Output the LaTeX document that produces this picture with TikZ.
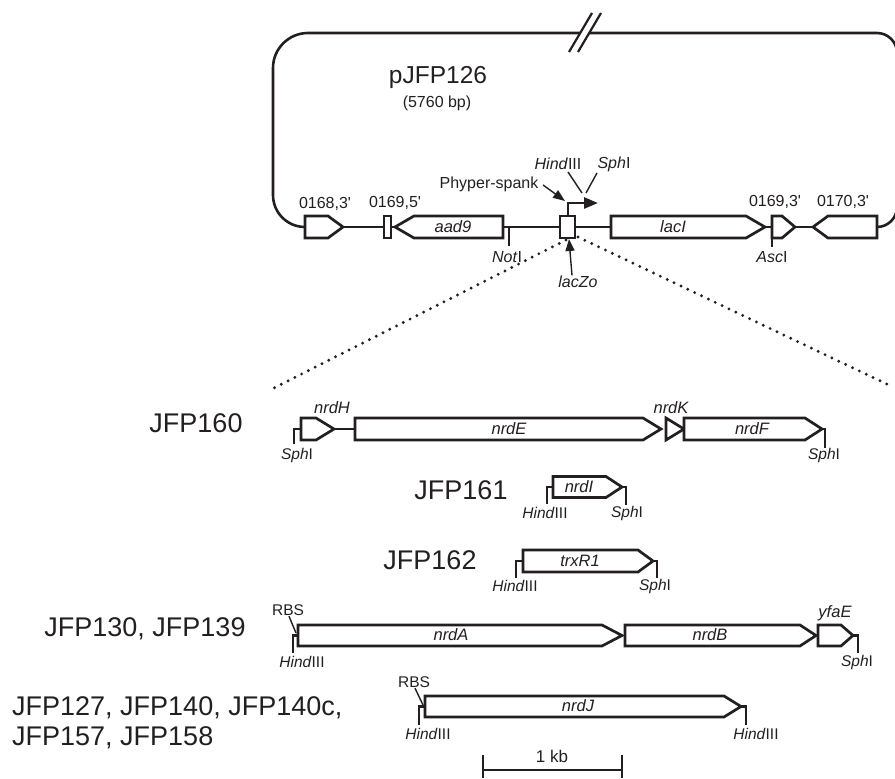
\documentclass[tikz,border=0pt]{standalone}
\usepackage{fontspec}
\setmainfont{Liberation Sans}
\usetikzlibrary{arrows.meta}
\definecolor{ink}{RGB}{35,31,32}
\tikzset{
 gene/.style={draw=ink, line width=2.7pt, fill=white, line join=miter},
 bb/.style={draw=ink, line width=2.6pt},
 tickln/.style={draw=ink, line width=2.7pt},
 ptr/.style={draw=ink, line width=1.4pt},
 dotln/.style={draw=ink, line width=3.2pt, line cap=round, dash pattern=on 0pt off 7.6pt},
 lbl/.style={inner sep=0.5pt, text=ink, font=\fontsize{15.5}{18}\selectfont},
 tlbl/.style={inner sep=0.5pt, text=ink, font=\fontsize{16}{19}\selectfont},
 glbl/.style={inner sep=0.5pt, text=ink, font=\fontsize{16.5}{19}\selectfont\itshape},
 big/.style={inner sep=0pt, text=ink, font=\fontsize{27}{32}\selectfont},
 title/.style={inner sep=0pt, text=ink, font=\fontsize{24.5}{28}\selectfont},
 tipA/.style={-{Triangle[length=12pt,width=9pt]}},
}
\newcommand\garr[5]{\draw[gene] (#1,#4-#5) -- (#2,#4-#5) -- (#3,#4) -- (#2,#4+#5) -- (#1,#4+#5) -- cycle;}
\newcommand\hnd{\textit{Hind}III}
\newcommand\sph{\textit{Sph}I}
\begin{document}
\begin{tikzpicture}[x=1pt,y=-1pt]
\useasboundingbox (0,0) rectangle (895,779);

% ---------- plasmid outline ----------
\draw[bb] (305,227) .. controls (287.3,227) and (273,212.7) .. (273,195) -- (273,68)
  .. controls (273,48.7) and (288.7,33) .. (308,33) -- (580,33);
\draw[bb] (589,33) -- (877,33) .. controls (888,33) and (897,42) .. (897,53) -- (897,207)
  .. controls (897,218) and (888,227) .. (877,227);
\draw[bb, line width=2.2pt] (569,52) -- (592,13);
\draw[bb, line width=2.2pt] (578,52) -- (601,13);

\node[title] (p126) at (438,77) {pJFP126};
\node[tlbl] (bp) at (437,103) {(5760 bp)};

% ---------- zoom lines ----------
\coordinate (zl0) at (566,240);
\coordinate (zl1) at (274,388);
\coordinate (zr0) at (578,237);
\coordinate (zr1) at (893,387);
\draw[dotln] (zl0) -- (zl1);
\draw[dotln] (zr0) -- (zr1);

% ---------- backbone ----------
\draw[bb] (343,227) -- (813,227);
\garr{305}{328}{343}{227}{11}
\draw[gene] (384,216) rectangle (391,238);
\garr{503}{414}{395}{227}{11}
\draw[gene] (560,216) rectangle (575,238);
\garr{611}{746}{765}{227}{11}
\garr{772}{782}{795}{227}{11}
\garr{877}{828}{813}{227}{11}
\draw[tickln] (509,227) -- (509,246);
\draw[tickln] (772,227) -- (772,247);

\node[tlbl] (l0168) at (325,204) {0168,3\textquotesingle};
\node[tlbl] (l0169a) at (395,203) {0169,5\textquotesingle};
\node[tlbl] (l0169b) at (775,202) {0169,3\textquotesingle};
\node[tlbl] (l0170) at (843,202) {0170,3\textquotesingle};
\node[glbl] (laad) at (453,227) {aad9};
\node[glbl] (llacI) at (673,227) {lacI};
\node[tlbl] (lnot) at (507,257) {\textit{Not}I};
\node[tlbl] (lasc) at (772,257) {\textit{Asc}I};

% promoter
\draw[ink, line width=2.6pt, -{Triangle[length=14pt,width=11pt]}] (568,216) -- (568,203) -- (598,203);
\node[tlbl] (phy) at (489,184) {Phyper-spank};
\coordinate (prA) at (565,201);
\draw[ptr, tipA] ([xshift=4pt,yshift=-1pt]phy.east) -- (prA);
\node[tlbl] (hTop) at (558,164) {\hnd};
\node[tlbl] (sTop) at (614,164) {\sph};
\coordinate (hT1) at (582,193);
\coordinate (sT1) at (586,193);
\draw[ptr] (568,172) -- (hT1);
\draw[ptr] (597,173) -- (sT1);
\node[tlbl] (lz) at (578,282) {\textit{lacZo}};
\coordinate (lzB) at (569,239);
\draw[ptr, tipA] ([xshift=-6pt]lz.north) -- (lzB);

% ---------- JFP160 ----------
\node[big] (j160) at (196,423) {JFP160};
\draw[tickln] (294,444) -- (294,429) -- (301,429);
\draw[bb] (334,429) -- (355,429);
\garr{301}{316}{334}{429}{11}
\garr{355}{643}{661}{429}{11}
\garr{666}{666}{684}{429}{11}
\garr{684}{805}{822}{429}{11}
\draw[tickln] (822,429) -- (825,429) -- (825,448);
\node[glbl] (nH) at (332,408) {nrdH};
\node[glbl] (nK) at (671,408) {nrdK};
\node[glbl] (nE) at (509,429) {nrdE};
\node[glbl] (nF) at (752,429) {nrdF};
\node[lbl] (s160a) at (297,455) {\sph};
\node[lbl] (s160b) at (824,455) {\sph};

% ---------- JFP161 ----------
\node[big] (j161) at (461,490) {JFP161};
\draw[tickln] (547,504) -- (547,487) -- (553,487);
\garr{553}{606}{622}{487}{10.5}
\draw[tickln] (622,487) -- (626,487) -- (626,505);
\node[glbl] (nI) at (579,487) {nrdI};
\node[lbl] (h161) at (545,513) {\hnd};
\node[lbl] (s161) at (627,513) {\sph};

% ---------- JFP162 ----------
\node[big] (j162) at (430,560) {JFP162};
\draw[tickln] (516,578) -- (516,561) -- (523,561);
\garr{523}{638}{653}{561}{11}
\draw[tickln] (653,561) -- (657,561) -- (657,578);
\node[glbl] (ntr) at (580,561) {trxR1};
\node[lbl] (h162) at (515,586) {\hnd};
\node[lbl] (s162) at (655,586) {\sph};

% ---------- JFP130, JFP139 ----------
\node[big] (j130) at (145,629) {JFP130, JFP139};
\draw[tickln] (293,653) -- (293,635.5) -- (299,635.5);
\garr{298}{602}{622}{635.5}{10.5}
\garr{625}{800}{816}{635.5}{10.5}
\garr{818}{841}{853}{635.5}{10.5}
\draw[tickln] (853,635.5) -- (858,635.5) -- (858,653);
\node[lbl] (rbsA) at (288,610) {RBS};
\coordinate (rbsA1) at (296,633);
\draw[ptr] ([xshift=1pt]rbsA.south) -- (rbsA1);
\node[glbl] (nA) at (451,635) {nrdA};
\node[glbl] (nB) at (710,635) {nrdB};
\node[glbl] (yf) at (835,613) {yfaE};
\node[lbl] (h130) at (302,662) {\hnd};
\node[lbl] (s130) at (857,662) {\sph};

% ---------- JFP127 ... ----------
\node[big, anchor=base west] (j127) at (12,715) {JFP127, JFP140, JFP140c,};
\node[big, anchor=base west] (j157) at (12,745) {JFP157, JFP158};
\draw[tickln] (419,725) -- (419,706.5) -- (425,706.5);
\garr{425}{724}{741}{706.5}{10.5}
\draw[tickln] (741,706.5) -- (746,706.5) -- (746,725);
\node[lbl] (rbsB) at (414,682) {RBS};
\coordinate (rbsB1) at (423,705);
\draw[ptr] ([xshift=1pt]rbsB.south) -- (rbsB1);
\node[glbl] (nJ) at (578,706) {nrdJ};
\node[lbl] (h127a) at (428,734) {\hnd};
\node[lbl] (h127b) at (756,734) {\hnd};

% ---------- scale bar ----------
\coordinate (sb0) at (483,770);
\coordinate (sb1) at (622,770);
\draw[tickln] (sb0) -- (sb1);
\draw[tickln] (483,755) -- (483,778);
\draw[tickln] (622,755) -- (622,778);
\node[lbl, font=\fontsize{17}{20}\selectfont] (kb) at (552,756) {1 kb};
\end{tikzpicture}
\end{document}
